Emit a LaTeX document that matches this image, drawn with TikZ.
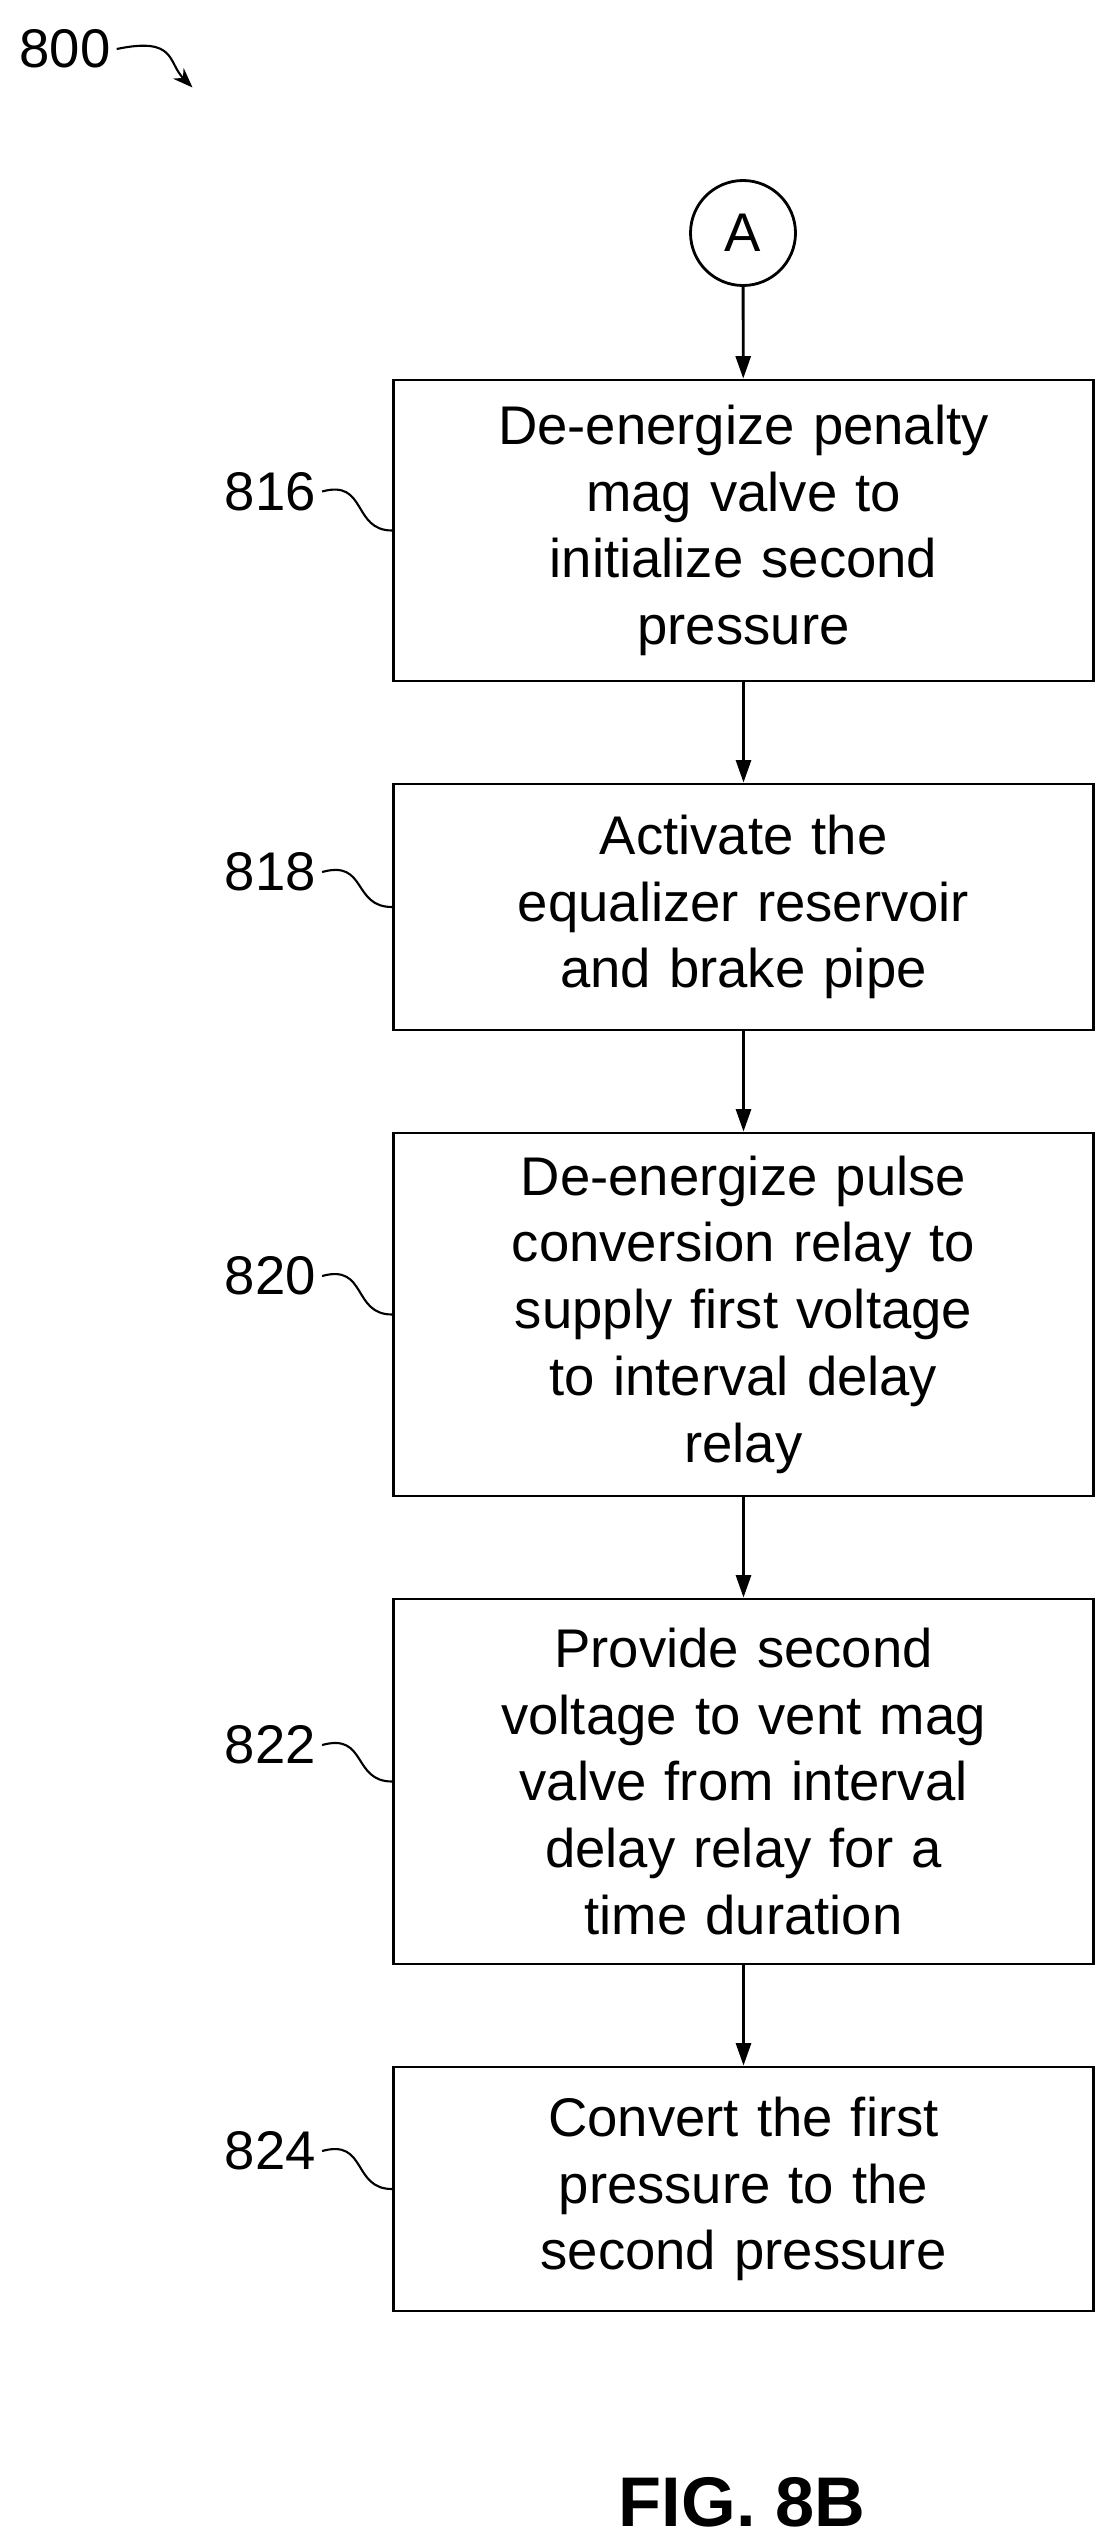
\documentclass[tikz,border=0pt]{standalone}
\usepackage{fontspec}
\setmainfont{Liberation Sans}
\usetikzlibrary{arrows.meta,positioning,calc}

\tikzset{
  process/.style={draw, line width=1.6pt, minimum width=14cm, text width=12.6cm, align=center,
    font=\fontsize{31}{38}\selectfont},
  reflbl/.style={font=\fontsize{31}{38}\selectfont},
  flow/.style={line width=1.6pt, -{Triangle[length=0.45cm,width=0.3cm]}},
  lead/.style={line width=1.2pt}
}

\begin{document}
\begin{tikzpicture}
  \useasboundingbox (0,0) rectangle (22.34,-50.86);

  % Figure number
  \node[reflbl] (fig) at (1.3,-0.98) {800};
  \coordinate (figtip) at (3.85,-1.75);
  \draw[lead, -{Stealth[length=0.4cm,width=0.3cm]}] (fig.east) .. controls +(1.2,0.25) and +(-0.5,0.5) .. (figtip);

  % Connector
  \node[draw, circle, line width=1.6pt, minimum size=2.1cm, inner sep=0pt, font=\fontsize{31}{38}\selectfont] (conA) at (14.86,-4.66) {A};

  % Steps
  \node[process, minimum height=6.02cm] (s816) at (14.87,-10.61) {De-energize penalty\\mag valve to\\initialize second\\pressure};
  \node[process, minimum height=4.92cm] (s818) at (14.87,-18.14) {Activate the\\equalizer reservoir\\and brake pipe};
  \node[process, minimum height=7.26cm] (s820) at (14.87,-26.29) {De-energize pulse\\conversion relay to\\supply first voltage\\to interval delay\\relay};
  \node[process, minimum height=7.3cm] (s822) at (14.87,-35.63) {Provide second\\voltage to vent mag\\valve from interval\\delay relay for a\\time duration};
  \node[process, minimum height=4.88cm] (s824) at (14.87,-43.78) {Convert the first\\pressure to the\\second pressure};

  % Flow arrows
  \draw[flow] (conA) -- (s816);
  \draw[flow] (s816) -- (s818);
  \draw[flow] (s818) -- (s820);
  \draw[flow] (s820) -- (s822);
  \draw[flow] (s822) -- (s824);

  % Reference labels
  \foreach \n/\dy in {816/0.78, 818/0.7, 820/0.77, 822/0.73, 824/0.76} {
    \node[reflbl, anchor=east] (l\n) at ($(s\n.west)+(-1.4,\dy)$) {\n};
    \draw[lead] (l\n.east) .. controls +(0.9,0.25) and +(-0.8,0) .. (s\n.west);
  }

  % Caption
  \node[font=\bfseries\fontsize{40}{48}\selectfont] (cap) at (14.84,-50.04) {FIG. 8B};
\end{tikzpicture}
\end{document}
